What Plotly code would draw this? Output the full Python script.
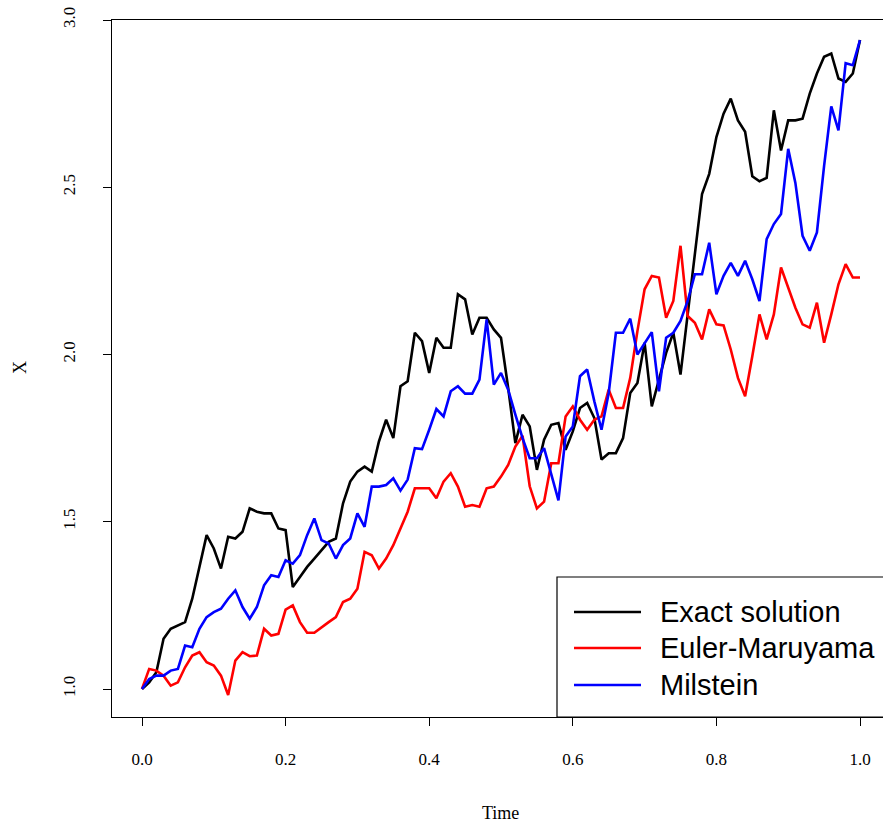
import plotly.graph_objects as go

# time grid, dt = 0.01
time = [round(i * 0.01, 2) for i in range(101)]

exact = [
    1.00, 1.02, 1.05, 1.15, 1.18, 1.19, 1.20, 1.27, 1.37, 1.46,
    1.42, 1.36, 1.455, 1.45, 1.47, 1.54, 1.53, 1.525, 1.525, 1.48,
    1.475, 1.305, 1.335, 1.365, 1.39, 1.415, 1.44, 1.45, 1.555, 1.62,
    1.65, 1.665, 1.65, 1.74, 1.805, 1.75, 1.905, 1.92, 2.065, 2.04,
    1.945, 2.05, 2.02, 2.02, 2.18, 2.165, 2.06, 2.11, 2.11, 2.075,
    2.05, 1.90, 1.735, 1.82, 1.785, 1.655, 1.745, 1.79, 1.795, 1.715,
    1.77, 1.84, 1.855, 1.81, 1.686, 1.705, 1.705, 1.75, 1.885, 1.915,
    2.035, 1.845, 1.925, 2.005, 2.065, 1.94, 2.12, 2.30, 2.48, 2.54,
    2.65, 2.72, 2.765, 2.70, 2.666, 2.533, 2.518, 2.528, 2.73, 2.61,
    2.70, 2.70, 2.705, 2.78, 2.84, 2.89, 2.90, 2.825, 2.815, 2.84,
    2.94,
]

euler = [
    1.00, 1.06, 1.055, 1.04, 1.01, 1.02, 1.065, 1.10, 1.11, 1.08,
    1.07, 1.04, 0.982, 1.085, 1.11, 1.098, 1.10, 1.18, 1.16, 1.165,
    1.237, 1.25, 1.20, 1.168, 1.168, 1.185, 1.20, 1.215, 1.26, 1.27,
    1.30, 1.41, 1.40, 1.36, 1.39, 1.43, 1.48, 1.53, 1.60, 1.60,
    1.60, 1.57, 1.62, 1.645, 1.605, 1.545, 1.55, 1.545, 1.60, 1.605,
    1.635, 1.67, 1.725, 1.757, 1.606, 1.54, 1.56, 1.675, 1.675, 1.815,
    1.845, 1.805, 1.775, 1.805, 1.815, 1.895, 1.84, 1.84, 1.93, 2.07,
    2.195, 2.235, 2.23, 2.11, 2.16, 2.325, 2.115, 2.095, 2.045, 2.135,
    2.09, 2.087, 2.015, 1.93, 1.875, 1.995, 2.12, 2.045, 2.12, 2.26,
    2.20, 2.14, 2.09, 2.08, 2.155, 2.035, 2.12, 2.21, 2.27, 2.23,
    2.23,
]

milstein = [
    1.00, 1.03, 1.04, 1.04, 1.055, 1.06, 1.13, 1.125, 1.18, 1.215,
    1.23, 1.24, 1.27, 1.295, 1.245, 1.21, 1.245, 1.31, 1.34, 1.335,
    1.385, 1.375, 1.40, 1.46, 1.51, 1.445, 1.435, 1.39, 1.43, 1.45,
    1.525, 1.485, 1.605, 1.605, 1.61, 1.63, 1.593, 1.626, 1.72, 1.717,
    1.775, 1.837, 1.815, 1.89, 1.905, 1.883, 1.883, 1.925, 2.105, 1.91,
    1.945, 1.895, 1.82, 1.75, 1.69, 1.69, 1.72, 1.646, 1.564, 1.755,
    1.785, 1.935, 1.955, 1.86, 1.775, 1.885, 2.065, 2.065, 2.107, 2.0,
    2.035, 2.067, 1.89, 2.05, 2.065, 2.10, 2.16, 2.24, 2.24, 2.334,
    2.18, 2.235, 2.274, 2.235, 2.28, 2.225, 2.16, 2.345, 2.39, 2.42,
    2.615, 2.513, 2.355, 2.31, 2.365, 2.564, 2.742, 2.67, 2.871, 2.865,
    2.94,
]

series_names = ["Exact solution", "Euler-Maruyama", "Milstein"]
series_colors = ["black", "#ff0000", "#0000ff"]
x_ticks = [0.0, 0.2, 0.4, 0.6, 0.8, 1.0]
y_ticks = [1.0, 1.5, 2.0, 2.5, 3.0]

W, H = 883, 823
L, R, T, B = 112, 0, 20, 106
plot_w = W - L - R
plot_h = H - T - B

serif = "Liberation Serif, Times New Roman, serif"
sans = "Liberation Sans, Arial, sans-serif"

fig = go.Figure()
for name, ys, col in zip(series_names, [exact, euler, milstein], series_colors):
    fig.add_trace(go.Scatter(
        x=time, y=ys, mode="lines", name=name,
        line=dict(color=col, width=2.6), showlegend=False,
    ))

# legend box laid out in pixel units of the plot area
def px_x(px):
    return (px - L) / plot_w

def px_y(py):
    return (H - B - py) / plot_h

shapes = [dict(type="rect", xref="paper", yref="paper",
               x0=px_x(557), x1=px_x(895), y0=px_y(717), y1=px_y(577),
               line=dict(color="black", width=1.2), fillcolor="white", layer="above")]
annotations = []
legend_rows = [612, 648, 685]
for name, col, py in zip(series_names, series_colors, legend_rows):
    shapes.append(dict(type="line", xref="paper", yref="paper",
                       x0=px_x(574), x1=px_x(641), y0=px_y(py), y1=px_y(py),
                       line=dict(color=col, width=2.6), layer="above"))
    annotations.append(dict(text=name, xref="paper", yref="paper",
                            x=px_x(658), y=px_y(py), xanchor="left", yanchor="middle",
                            showarrow=False, font=dict(family=sans, size=29, color="black")))

annotations.append(dict(text="Time", xref="paper", yref="paper",
                        x=px_x(500), y=px_y(813), xanchor="center", yanchor="middle",
                        showarrow=False, font=dict(family=serif, size=18, color="black")))
annotations.append(dict(text="X", xref="paper", yref="paper",
                        x=px_x(20), y=px_y(368), xanchor="center", yanchor="middle",
                        textangle=-90, showarrow=False,
                        font=dict(family=serif, size=18, color="black")))

x_lo = (L - 142) / 718
x_hi = (W - 142) / 718
y_hi = 1 + (689 - T) / 334.5
y_lo = 1 - (H - B - 689) / 334.5

fig.update_layout(
    width=W, height=H,
    margin=dict(l=L, r=R, t=T, b=B, pad=0),
    paper_bgcolor="white", plot_bgcolor="white",
    shapes=shapes, annotations=annotations,
    xaxis=dict(range=[x_lo, x_hi], tickvals=x_ticks,
               ticktext=[f"{v:.1f}" for v in x_ticks],
               ticks="outside", ticklen=8, tickwidth=1, tickcolor="black",
               showline=True, linecolor="black", linewidth=1, mirror=True,
               showgrid=False, zeroline=False,
               tickfont=dict(family=serif, size=17, color="black"),
               ticklabelstandoff=19),
    yaxis=dict(range=[y_lo, y_hi], tickvals=y_ticks,
               ticktext=[f"{v:.1f}" for v in y_ticks],
               ticks="outside", ticklen=8, tickwidth=1, tickcolor="black",
               showline=True, linecolor="black", linewidth=1,
               showgrid=False, zeroline=False, tickangle=-90,
               tickfont=dict(family=serif, size=17, color="black"),
               ticklabelstandoff=21),
)

fig.write_html("out.html")
